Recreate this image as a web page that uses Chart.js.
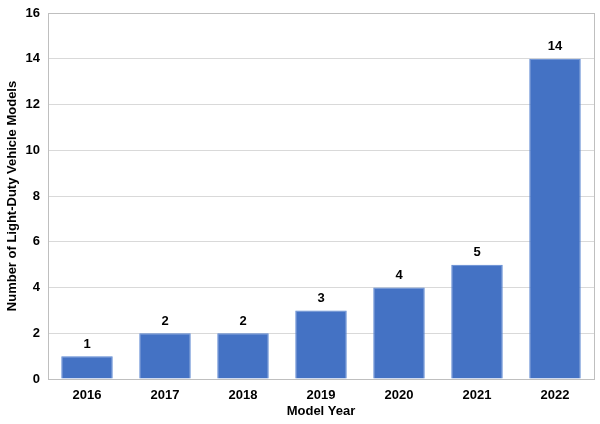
<!DOCTYPE html>
<html>
<head>
<meta charset="utf-8">
<script src="https://cdn.jsdelivr.net/npm/chart.js@4"></script>
<style>
html,body{margin:0;padding:0;background:#fff;}
#wrap{width:600px;height:424px;}
</style>
</head>
<body>
<div id="wrap"><canvas id="c" width="600" height="424"></canvas></div>
<script>
const categories = ["2016","2017","2018","2019","2020","2021","2022"];
const models = [1,2,2,3,4,5,14];
const yTicks = [0,2,4,6,8,10,12,14,16];

const FONT = "'Liberation Sans', Arial, sans-serif";

const frame = {
  id: 'frame',
  afterDraw(chart){
    const {ctx, chartArea:a} = chart;
    ctx.save();
    ctx.strokeStyle = '#bfbfbf';
    ctx.lineWidth = 1;
    ctx.strokeRect(Math.round(a.left)+0.5, Math.round(a.top)+0.5, Math.round(a.right-a.left), Math.round(a.bottom-a.top));
    ctx.restore();
  }
};
const labels = {
  id: 'labels',
  afterDatasetsDraw(chart){
    const {ctx} = chart;
    const meta = chart.getDatasetMeta(0);
    ctx.save();
    ctx.font = "bold 13px " + FONT;
    ctx.fillStyle = '#000';
    ctx.textAlign = 'center';
    ctx.textBaseline = 'middle';
    meta.data.forEach((bar,i)=>{
      ctx.fillText(String(models[i]), bar.x, bar.y - 12);
    });
    ctx.restore();
  }
};

new Chart(document.getElementById('c'), {
  type: 'bar',
  data: {
    labels: categories,
    datasets: [{
      data: models,
      backgroundColor: '#4472C4',
      borderColor: '#5a86d2',
      borderWidth: 1,
      categoryPercentage: 1,
      barPercentage: 0.66
    }]
  },
  options: {
    responsive: false,
    animation: false,
    layout: {padding: {top: 13, right: 6, left: 0, bottom: 0}},
    plugins: {legend: {display: false}, tooltip: {enabled: false}},
    scales: {
      x: {
        grid: {display: false, drawTicks: false},
        border: {display: false},
        ticks: {color: '#000', font: {family: FONT, size: 13, weight: 'bold'}, padding: 9},
        title: {display: true, text: 'Model Year', color: '#000', font: {family: FONT, size: 13, weight: 'bold'}, padding: {top: 0, bottom: 5}},
        afterFit(s){ s.height = 45; s.paddingLeft = 0; s.paddingRight = 0; }
      },
      y: {
        min: 0, max: 16,
        afterBuildTicks(s){ s.ticks = yTicks.map(v=>({value:v})); },
        grid: {color: '#d9d9d9', drawTicks: false},
        border: {display: false},
        ticks: {color: '#000', font: {family: FONT, size: 13, weight: 'bold'}, padding: 8},
        title: {display: true, text: 'Number of Light-Duty Vehicle Models', color: '#000', font: {family: FONT, size: 13, weight: 'bold'}, padding: {top: 5, bottom: 0}},
        afterFit(s){ s.width = 48; s.paddingTop = 0; s.paddingBottom = 0; }
      }
    }
  },
  plugins: [frame, labels]
});
</script>
</body>
</html>
